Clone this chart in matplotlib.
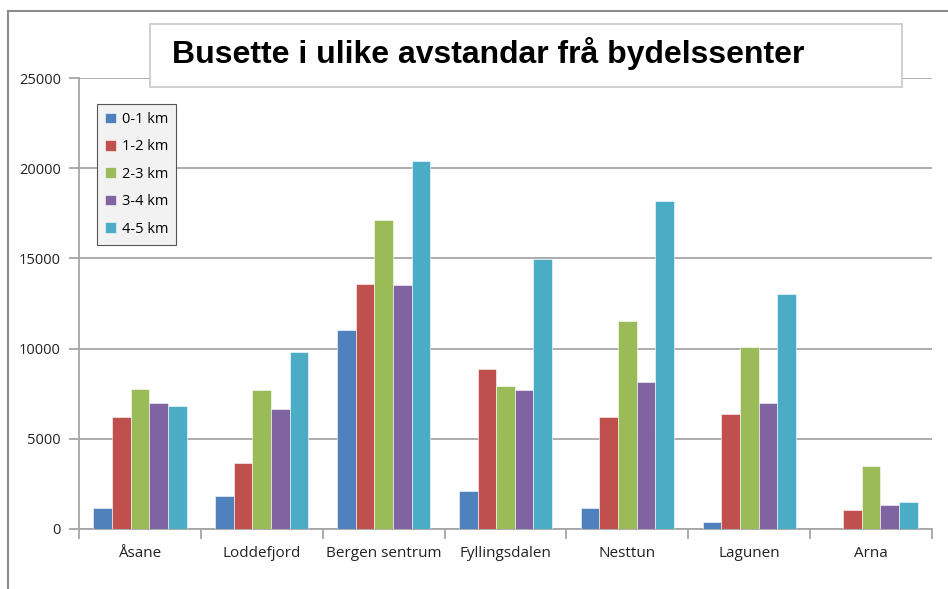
import matplotlib
matplotlib.use("Agg")
import matplotlib.pyplot as plt
from matplotlib.patches import Rectangle
from matplotlib.lines import Line2D
import numpy as np

categories = ["Åsane", "Loddefjord", "Bergen sentrum", "Fyllingsdalen", "Nesttun", "Lagunen", "Arna"]
series = ["0-1 km", "1-2 km", "2-3 km", "3-4 km", "4-5 km"]
km_0_1 = [1180, 1830, 11050, 2110, 1180, 390, 0]
km_1_2 = [6230, 3640, 13580, 8870, 6230, 6360, 1050]
km_2_3 = [7760, 7700, 17130, 7930, 11530, 10090, 3490]
km_3_4 = [7000, 6640, 13510, 7700, 8150, 7000, 1330]
km_4_5 = [6820, 9810, 20420, 14980, 18200, 13030, 1510]
yticks = [0, 5000, 10000, 15000, 20000, 25000]
title = "Busette i ulike avstandar frå bydelssenter"

colors = ["#4f81bd", "#c0504d", "#9bbb59", "#8064a2", "#4bacc6"]
W, H = 948, 589
fig = plt.figure(figsize=(W/100, H/100), dpi=100)

# outer chart frame (cut at right / bottom)
fig.add_artist(Line2D([8/W, 8/W], [0, 1 - 11/H], color="#8c8c8c", lw=1.5))
fig.add_artist(Line2D([8/W, 1], [1 - 11/H, 1 - 11/H], color="#8c8c8c", lw=1.5))

ax = fig.add_axes([79/W, 60/H, 853/W, 451/H])
x = np.arange(len(categories))
bw = 0.153
for i, (vals, name) in enumerate(zip([km_0_1, km_1_2, km_2_3, km_3_4, km_4_5], series)):
    ax.bar(x + (i - 2) * bw, vals, bw, color=colors[i], edgecolor="white", linewidth=0.4,
           label=name, zorder=3)

ax.set_xlim(-0.5, len(categories) - 0.5)
ax.set_ylim(0, 25000)
ax.set_yticks(yticks)
ax.set_yticklabels([str(v) for v in yticks], fontsize=10.5, family="Open Sans", color="#222222")
ax.yaxis.grid(True, color="#a6a6a6", lw=1.3, zorder=0)
ax.tick_params(axis="y", length=7, color="#a6a6a6", width=1.3, pad=6)
ax.set_xticks(x)
ax.set_xticklabels(categories, fontsize=11, family="Open Sans", color="#222222")
ax.tick_params(axis="x", length=0, pad=12)
ax.set_xticks(np.arange(len(categories) + 1) - 0.5, minor=True)
ax.tick_params(axis="x", which="minor", length=7, color="#a6a6a6", width=1.3)
for s in ["top", "right"]:
    ax.spines[s].set_visible(False)
for s in ["left", "bottom"]:
    ax.spines[s].set_color("#a6a6a6")
    ax.spines[s].set_linewidth(1.3)

leg = ax.legend(loc="upper left", bbox_to_anchor=(18/853, 1 - 26/451), frameon=True, fancybox=False,
                prop={"family": "Open Sans", "size": 10.5}, handlelength=0.75, handleheight=0.75,
                labelspacing=0.85, handletextpad=0.4, borderpad=0.55, borderaxespad=0)
leg.get_frame().set_facecolor("#f2f2f2")
leg.get_frame().set_edgecolor("#555555")
leg.get_frame().set_linewidth(0.8)
leg.get_frame().set_alpha(1)
leg.set_zorder(5)

# title box
fig.add_artist(Rectangle((150/W, 1 - 87/H), 752/W, 63/H, facecolor="white", edgecolor="#c8c8c8",
                         lw=1.2, zorder=10))
fig.text(172/W, 1 - 54/H, title, fontsize=23, fontweight="bold", family="Liberation Sans",
         va="center", ha="left", zorder=11)

fig.savefig("out.png", dpi=100)
